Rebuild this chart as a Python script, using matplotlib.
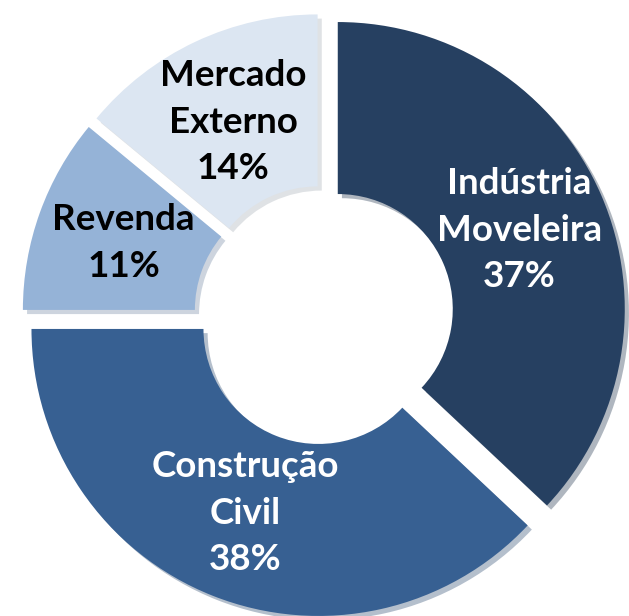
import math

import matplotlib

matplotlib.use("Agg")
import matplotlib.pyplot as plt

categorias = ["Indústria\nMoveleira", "Construção\nCivil", "Revenda", "Mercado\nExterno"]
valores = [37, 38, 11, 14]
cores = ["#264061", "#376092", "#95B3D7", "#DCE6F2"]
cores_texto = ["white", "white", "black", "black"]

W, H = 629, 616
fig = plt.figure(figsize=(W / 100, H / 100), dpi=100)
ax = fig.add_axes([0, 0, 1, 1])

raio = 287
wedges, textos = ax.pie(
    valores, colors=cores, startangle=90, counterclock=False,
    center=(324, H - 315), radius=raio, explode=[15] * 4,
    wedgeprops=dict(width=172, linewidth=0),
    shadow=dict(ox=3, oy=-3, shade=0.25, alpha=0.35),
    labels=None,
)

# rotulos no meio de cada fatia
for w, nome, v, ct in zip(wedges, categorias, valores, cores_texto):
    tm = math.radians(0.5 * (w.theta1 + w.theta2))
    cx, cy = w.center
    x = cx + 0.69 * raio * math.cos(tm)
    y = cy + 0.69 * raio * math.sin(tm)
    ax.text(x, y, f"{nome}\n{v}%", ha="center", va="center", color=ct,
            fontsize=26.5, fontweight="bold", family="Lato", linespacing=1.5,
            multialignment="center")

ax.set_xlim(0, W)
ax.set_ylim(0, H)
ax.set_aspect("equal")
ax.axis("off")
fig.savefig("out.png", dpi=100)
